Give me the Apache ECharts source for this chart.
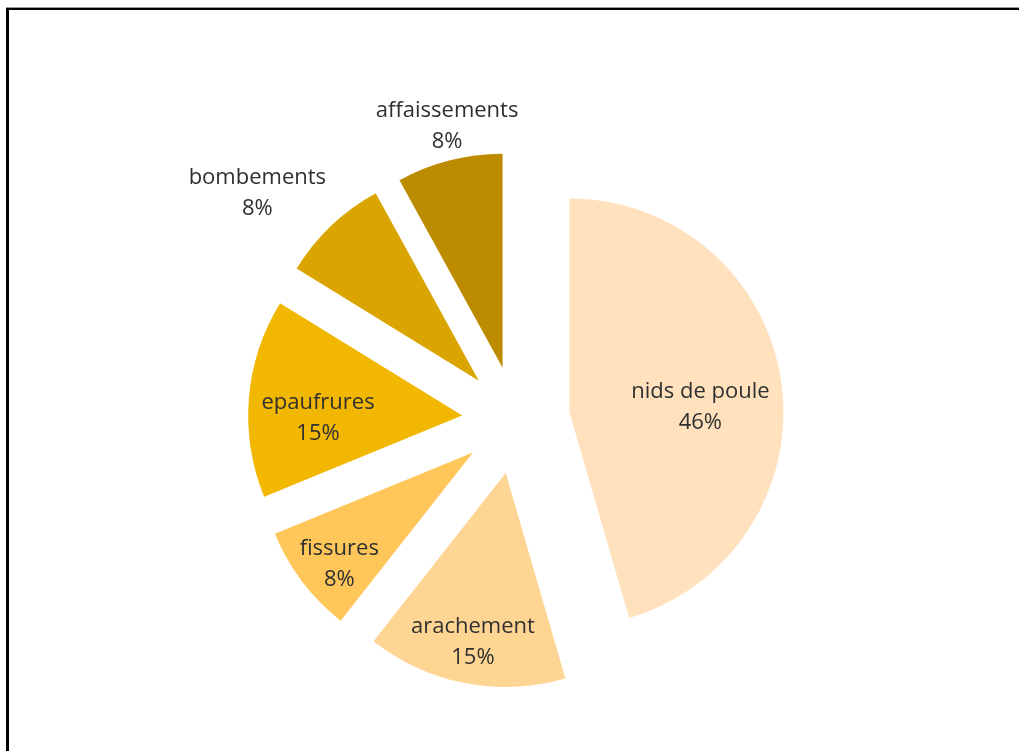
<!DOCTYPE html>
<html>
<head>
<meta charset="utf-8">
<script src="https://cdn.jsdelivr.net/npm/echarts@6/dist/echarts.min.js"></script>
<style>
  html, body { margin: 0; padding: 0; background: #fff; }
  #wrap { position: relative; width: 1019px; height: 751px; overflow: hidden; }
  #chart { position: absolute; left: 0; top: 0; width: 1019px; height: 751px; }
  #frame { position: absolute; left: 6px; top: 8px; width: 1100px; height: 900px;
           border-left: 3px solid #000; border-top: 2px solid #000;
           box-shadow: 0 -1px 0 #9a9a9a; pointer-events: none; }
</style>
</head>
<body>
<div id="wrap">
  <div id="chart"></div>
  <div id="frame"></div>
</div>
<script>
// ---- data (shares, in %) ----
var categories = ['nids de poule', 'arachement', 'fissures', 'epaufrures', 'bombements', 'affaissements'];
var values = [45.5, 15.1, 8.2, 15.0, 8.2, 8.0];

// ---- style ----
var colors = ['#FFE1BD', '#FFD594', '#FFC75A', '#F2B700', '#DAA500', '#BD8B00'];
var CENTER = [516, 420];
var RADIUS = 214;
var EXPLODE = 54;
// label placement: distance from pie centre and angular nudge (deg) from the slice mid-angle
var labelDist = [185, 224, 227, 198, 345, 304];
var labelNudge = [3.4, 0.1, -1.8, -3.5, -5.0, 1.3];
var LABEL_DY = 2;

var total = values.reduce(function (a, b) { return a + b; }, 0);
function midAngle(i) {
  var before = 0;
  for (var k = 0; k < i; k++) before += values[k];
  return (before + values[i] / 2) / total * 360;
}

var chart = echarts.init(document.getElementById('chart'), null, { renderer: 'canvas' });
chart.setOption({
  animation: false,
  backgroundColor: 'transparent',
  series: [{
    // exploded slices
    type: 'pie',
    center: CENTER,
    radius: RADIUS,
    startAngle: 90,
    clockwise: true,
    selectedMode: 'multiple',
    selectedOffset: EXPLODE,
    emphasis: { disabled: true },
    select: { itemStyle: { borderWidth: 0 } },
    itemStyle: { borderWidth: 0 },
    label: { show: false },
    labelLine: { show: false },
    data: categories.map(function (c, i) {
      return { name: c, value: values[i], selected: true, itemStyle: { color: colors[i] } };
    })
  }, {
    // data labels (transparent copy of the same pie)
    type: 'pie',
    center: CENTER,
    radius: RADIUS,
    startAngle: 90,
    clockwise: true,
    silent: true,
    selectedMode: false,
    percentPrecision: 0,
    avoidLabelOverlap: false,
    emphasis: { disabled: true },
    itemStyle: { color: 'rgba(0,0,0,0)', borderWidth: 0 },
    label: {
      show: true,
      position: 'inside',
      formatter: '{b}\n{d}%',
      fontFamily: 'Open Sans',
      fontSize: 22,
      lineHeight: 31,
      color: '#303030',
      align: 'center',
      verticalAlign: 'middle'
    },
    labelLine: { show: false },
    labelLayout: function (p) {
      var i = p.dataIndex;
      var a = (midAngle(i) + labelNudge[i]) * Math.PI / 180;
      return {
        x: CENTER[0] + labelDist[i] * Math.sin(a),
        y: CENTER[1] - labelDist[i] * Math.cos(a) + LABEL_DY,
        align: 'center',
        verticalAlign: 'middle'
      };
    },
    data: categories.map(function (c, i) {
      return { name: c, value: values[i] };
    })
  }]
});
</script>
</body>
</html>
